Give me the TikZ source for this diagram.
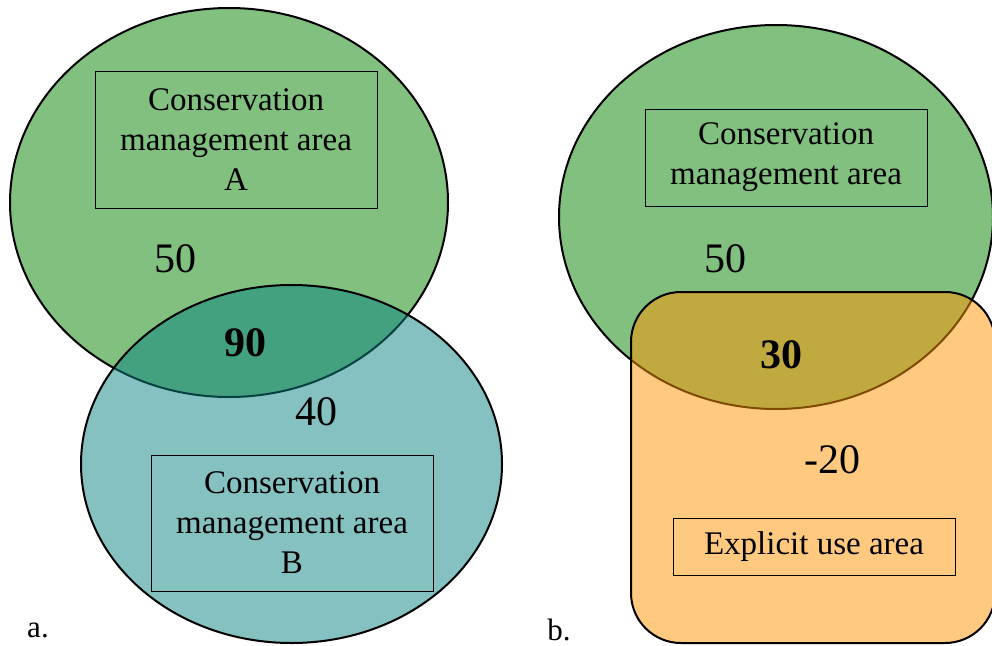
\documentclass[tikz,border=0pt]{standalone}
\usepackage{fontspec}
\setmainfont{Liberation Serif}
\usetikzlibrary{
	shapes.geometric,
	positioning,
}
\definecolor{areagreen}{RGB}{5,129,1}
\definecolor{areateal}{RGB}{9,131,129}
\definecolor{areaorange}{RGB}{255,147,0}
\tikzset{area/.style={
	draw=black,
	line width=2pt,
	fill opacity=0.5,
	inner sep=0pt,
}}
\tikzset{zone/.style={
	area,
	ellipse,
}}
\tikzset{name box/.style={
	draw,
	line width=0.9pt,
	align=center,
	inner sep=0pt,
	minimum width=282pt,
	font=\fontsize{33}{40}\selectfont,
}}
\tikzset{value/.style={
	inner sep=0pt,
	font=\fontsize{42}{48}\selectfont,
}}
\tikzset{panel/.style={
	inner sep=0pt,
	font=\fontsize{31}{36}\selectfont,
}}

\begin{document}
\begin{tikzpicture}[x=1pt,y=-1pt]
\useasboundingbox (0,0) rectangle (992,645);

% a.
\node[zone, fill=areagreen, minimum width=438pt, minimum height=389pt] (consA) at (229,202.5) {};
\node[zone, fill=areateal, minimum width=421pt, minimum height=358pt] (consB) at (291.5,464) {};

\node[name box, minimum height=137pt] (boxA) at (236,139.5) {Conservation\\management area\\A};
\node[name box, minimum height=136pt] (boxB) at (292,523) {Conservation\\management area\\B};

\node[value] (onlyA) at (175,259) {50};
\node[value, font=\fontsize{42}{48}\selectfont\bfseries] (bothAB) at (245,343) {90};
\node[value] (onlyB) at (316,412) {40};
\node[panel] (panelA) at (38,630) {a.};

% b.
\node[zone, fill=areagreen, minimum width=434pt, minimum height=384pt] (consC) at (776,217) {};
\node[area, fill=areaorange, rounded corners=50pt, minimum width=364pt, minimum height=351pt] (useD) at (813,467.5) {};

\node[name box, minimum height=97pt] (boxC) at (786,157.5) {Conservation\\management area};
\node[name box, minimum height=57pt] (boxD) at (814,546.5) {\raisebox{-3pt}{Explicit use area}};

\node[value] (onlyC) at (725,259) {50};
\node[value, font=\fontsize{42}{48}\selectfont\bfseries] (bothCD) at (781,355) {30};
\node[value] (onlyD) at (832,460) {-20};
\node[panel] (panelB) at (559,630) {b.};

\end{tikzpicture}
\end{document}
